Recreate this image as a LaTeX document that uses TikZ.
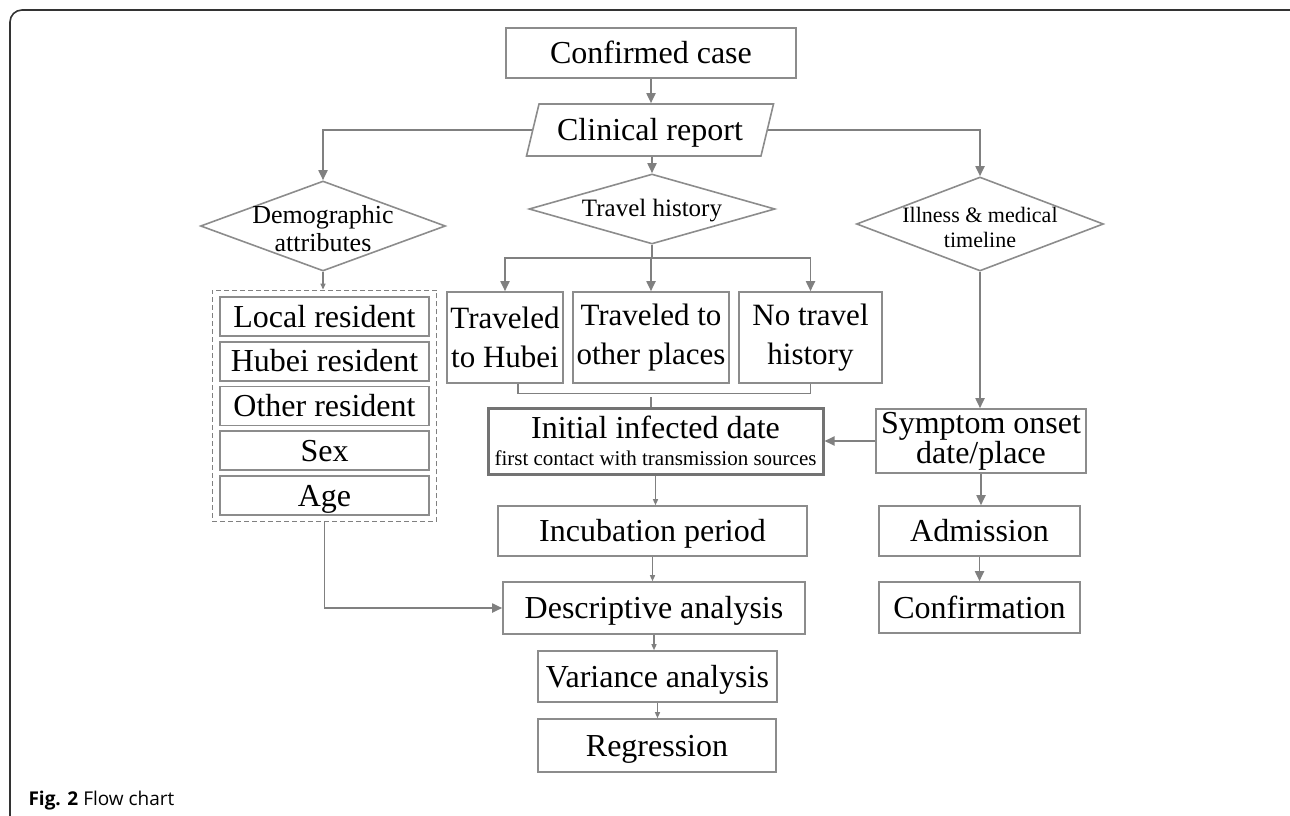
\documentclass[tikz,border=0pt]{standalone}
\usepackage{fontspec}
\setmainfont{Liberation Serif}
\newfontfamily\capfont{Open Sans}
\usetikzlibrary{shapes.geometric,arrows.meta,fit}
\definecolor{linegray}{RGB}{128,128,128}
\definecolor{boxgray}{RGB}{140,140,140}

\begin{document}
\begin{tikzpicture}[x=1pt,y=-1pt,
    plainbox/.style={rectangle,draw=boxgray,line width=1.6pt,inner sep=0pt,align=center,font=\boxfont},
    oneline/.style={text height=26pt,text depth=5pt},
    decide/.style={diamond,draw=boxgray,line width=1.6pt,inner sep=0pt},
    clinbox/.style={trapezium,trapezium left angle=68,trapezium right angle=112,trapezium stretches body,
        draw=boxgray,line width=1.6pt,inner sep=0pt,minimum width=247pt,minimum height=52pt,font=\boxfont},
    link/.style={draw=linegray,line width=1.8pt},
    arr/.style={link,-{Triangle[length=10pt,width=9pt]}},
    smallarr/.style={link,line width=1.3pt,-{Triangle[length=6pt,width=5pt]}}]

    \newcommand*{\boxfont}{\fontsize{32}{30}\selectfont}%

    % frame ↓
    \useasboundingbox (0,0) rectangle (1290,816);
    \clip (0,0) rectangle (1290,816);
    \draw[line width=1.6pt,black!80,rounded corners=12pt] (10,10) rectangle (1302,828);

    % top ↓
    \node[plainbox,oneline,minimum width=290pt,minimum height=50pt] (conf) at (651,53) {Confirmed case};
    \node[clinbox,oneline] (clin) at (650,130) {Clinical report};

    \node[decide,minimum width=245pt,minimum height=90pt,
        label={[align=center,font=\fontsize{26}{28}\selectfont,yshift=-3pt]center:Demographic\\attributes}] (demo) at (323,226) {};
    \node[decide,minimum width=246pt,minimum height=70pt,
        label={[font=\fontsize{25}{28}\selectfont,yshift=-2pt]center:Travel history}] (trav) at (652,209) {};
    \node[decide,minimum width=247pt,minimum height=94pt,
        label={[align=center,font=\fontsize{22}{25}\selectfont,yshift=-3pt]center:Illness \& medical\\timeline}] (ill) at (980,224) {};

    % travel ↓
    \foreach \name/\x/\w/\txt in {tr1/505/116/{Traveled\\to Hubei},tr2/651/156/{Traveled to\\other places},tr3/810.5/143/{No travel\\history}}
        \node[plainbox,font=\fontsize{31}{39}\selectfont,minimum width=\w pt,minimum height=91pt] (\name) at (\x,337.5) {\txt};

    % residents ↓
    \foreach \txt [count=\i from 0] in {Local resident,Hubei resident,Other resident,Sex,Age}
        \node[plainbox,oneline,minimum width=209pt,minimum height=39pt] (res\i) at (324.5,{316.5+44.75*\i}) {\txt};
    \node[fit=(res0)(res4),draw=linegray,dash pattern=on 5pt off 3pt,line width=1.2pt,inner xsep=7pt,inner ysep=6pt] (grp) {};

    % middle ↓
    \node[plainbox,draw=black!55,line width=3pt,minimum width=335pt,minimum height=66pt] (init) at (655.5,441)
        {{\fontsize{32}{32}\selectfont Initial infected date}\\[-3pt]{\fontsize{21}{22}\selectfont first contact with transmission sources}};
    \node[plainbox,minimum width=210pt,minimum height=64pt] (sym) at (981,441) {Symptom onset\\date/place};

    \node[plainbox,oneline,minimum width=309pt,minimum height=50pt] (inc) at (652.5,531) {Incubation period};
    \node[plainbox,oneline,minimum width=302pt,minimum height=52pt] (desc) at (654,608) {Descriptive analysis};
    \node[plainbox,oneline,minimum width=239pt,minimum height=51pt] (var) at (657.5,676.5) {Variance analysis};
    \node[plainbox,oneline,minimum width=238pt,minimum height=53pt] (reg) at (657,745.5) {Regression};

    \node[plainbox,oneline,minimum width=201pt,minimum height=50pt] (adm) at (979.5,531) {Admission};
    \node[plainbox,oneline,minimum width=201pt,minimum height=51pt] (cnf) at (979.5,607.5) {Confirmation};

    % connectors ↓
    \draw[arr] (conf.south) -- (conf.south |- clin.north);
    \draw[arr] (clin.west) -| (demo.north);
    \draw[arr] (clin.east) -| (ill.north);
    \draw[arr] (trav.north |- clin.south) -- (trav.north);

    \draw[link] (trav.south) -- ++(0,13) coordinate (tj);
    \foreach \b in {tr1,tr2,tr3}
        \draw[arr] (tj) -| (\b.north);

    \draw[link,line width=1.3pt] ([xshift=13pt]tr1.south) -- ++(0,10) -| (tr3.south);
    \draw[link,line width=1.3pt] (tr2.south |- 0,397) -- (tr2.south |- init.north);

    \draw[smallarr] (demo.south) -- (demo.south |- grp.north);
    \draw[arr] (grp.south) |- (desc.west);

    \draw[arr] (ill.south) -- (ill.south |- sym.north);
    \draw[arr] (sym.west) -- (init.east);
    \draw[arr] (sym.south) -- (sym.south |- adm.north);
    \draw[arr] (adm.south) -- (adm.south |- cnf.north);

    \draw[smallarr] (init.south) -- (init.south |- inc.north);
    \draw[smallarr] (inc.south) -- (inc.south |- desc.north);
    \draw[smallarr] (desc.south) -- (desc.south |- var.north);
    \draw[smallarr] (var.south) -- (var.south |- reg.north);

    % caption ↓
    \node[anchor=base west,font=\capfont\fontsize{19}{22}\selectfont] (cap) at (25,805) {\textbf{Fig. 2} Flow chart};

\end{tikzpicture}
\end{document}
